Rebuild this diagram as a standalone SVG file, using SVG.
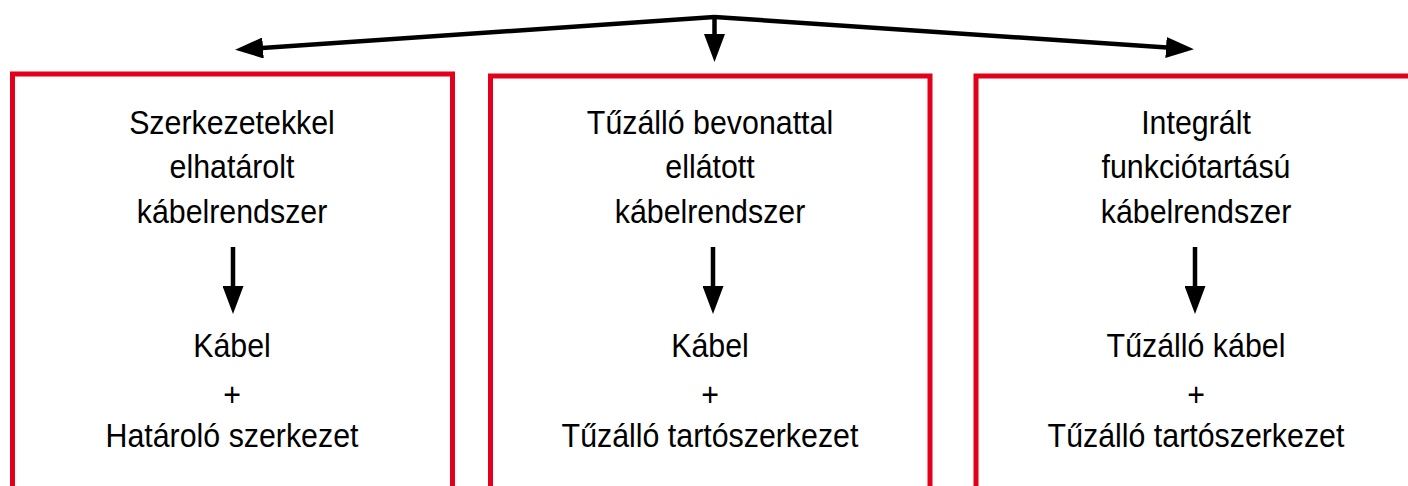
<svg xmlns="http://www.w3.org/2000/svg" width="1408" height="486" viewBox="0 0 1408 486">
  <style>
    .box { fill: #ffffff; stroke: #e2001a; stroke-width: 5; }
    .lbl { font-family: "Liberation Sans", Arial, Helvetica, sans-serif; font-size: 33px; fill: #000000; text-anchor: middle; }
    .wire { fill: none; stroke: #000000; stroke-width: 4.5; stroke-linecap: butt; stroke-linejoin: miter; }
  </style>
  <defs>
    <marker id="head" markerUnits="userSpaceOnUse" markerWidth="28" markerHeight="21" viewBox="0 0 28 21" refX="1" refY="10.5" orient="auto">
      <path d="M0,0 L28,10.5 L0,21 Z" fill="#000000"/>
    </marker>
  </defs>

  <rect width="1408" height="486" fill="#ffffff"/>

  <!-- cable system types -->
  <g id="node-structural">
    <rect class="box" x="12.5" y="74" width="440" height="440"/>
    <g class="lbl" transform="translate(232,0) scale(0.92,1)">
      <text x="0" y="134">Szerkezetekkel</text>
      <text x="0" y="178.5">elhatárolt</text>
      <text x="0" y="223">kábelrendszer</text>
      <text x="0" y="357">Kábel</text>
      <text x="0" y="406">+</text>
      <text x="0" y="447">Határoló szerkezet</text>
    </g>
  </g>

  <g id="node-coated">
    <rect class="box" x="490.5" y="76" width="439.5" height="440"/>
    <g class="lbl" transform="translate(710,0) scale(0.92,1)">
      <text x="0" y="134">Tűzálló bevonattal</text>
      <text x="0" y="178.5">ellátott</text>
      <text x="0" y="223">kábelrendszer</text>
      <text x="0" y="357">Kábel</text>
      <text x="0" y="406">+</text>
      <text x="0" y="447">Tűzálló tartószerkezet</text>
    </g>
  </g>

  <g id="node-integrated">
    <rect class="box" x="976" y="76" width="460" height="440"/>
    <g class="lbl" transform="translate(1196,0) scale(0.92,1)">
      <text x="0" y="134">Integrált</text>
      <text x="0" y="178.5">funkciótartású</text>
      <text x="0" y="223">kábelrendszer</text>
      <text x="0" y="357">Tűzálló kábel</text>
      <text x="0" y="406">+</text>
      <text x="0" y="447">Tűzálló tartószerkezet</text>
    </g>
  </g>

  <g id="connectors">
    <!-- branching from the top -->
    <line class="wire" x1="714.5" y1="17" x2="262" y2="48" marker-end="url(#head)"/>
    <line class="wire" x1="714.5" y1="17" x2="1167" y2="47.5" marker-end="url(#head)"/>
    <line class="wire" x1="714.5" y1="15" x2="714.5" y2="35" marker-end="url(#head)"/>
    <!-- inside each box -->
    <line class="wire" x1="233" y1="247" x2="233" y2="287" marker-end="url(#head)"/>
    <line class="wire" x1="713" y1="247" x2="713" y2="287" marker-end="url(#head)"/>
    <line class="wire" x1="1195" y1="247" x2="1195" y2="287" marker-end="url(#head)"/>
  </g>
</svg>
